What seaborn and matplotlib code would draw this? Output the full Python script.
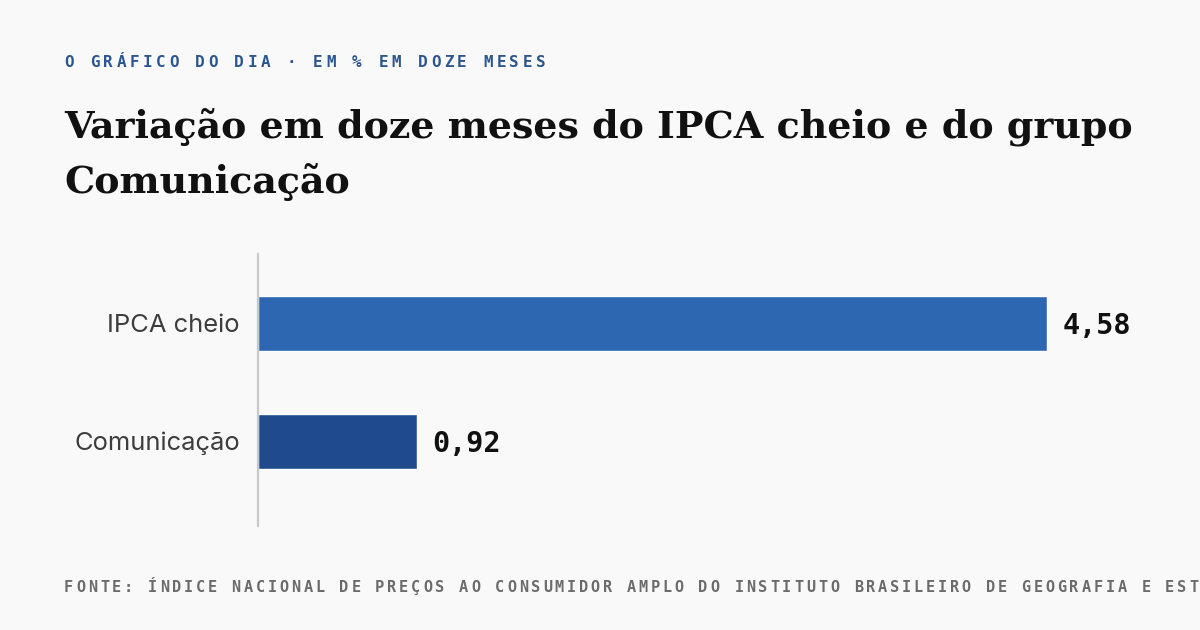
import matplotlib
matplotlib.use("Agg")
import matplotlib.pyplot as plt
import seaborn as sns

# data
categories = ["IPCA cheio", "Comunicação"]
values = [4.58, 0.92]
bar_colors = ["#2e67b1", "#1f4b8c"]

kicker = "O GRÁFICO DO DIA · EM % EM DOZE MESES"
title_lines = ["Variação em doze meses do IPCA cheio e do grupo", "Comunicação"]
source = ("FONTE: ÍNDICE NACIONAL DE PREÇOS AO CONSUMIDOR AMPLO DO INSTITUTO "
          "BRASILEIRO DE GEOGRAFIA E ESTATÍSTICA")

BG = "#f9f9f9"
W, H = 1200, 630

sns.set_theme(style="white")
plt.rcParams["font.family"] = ["DejaVu Sans"]


def px(x, y):
    """pixel coords (from top-left) -> figure fraction"""
    return x / W, 1 - y / H


def spaced_text(fig, x, y, s, pitch, glyph_w=9, **kw):
    # monospace text with extra tracking, drawn char by char;
    # chars that would run past the right edge are dropped (the original is cropped there)
    for i, ch in enumerate(s):
        cx = x + i * pitch
        if cx + glyph_w > W:
            break
        fx, fy = px(cx, y)
        fig.text(fx, fy, ch, ha="left", va="baseline", **kw)


fig = plt.figure(figsize=(W / 100, H / 100), dpi=100, facecolor=BG)

# axes placed in pixels
left, right, top, bottom = 258, 1140, 254, 526
ax = fig.add_axes([left / W, 1 - bottom / H, (right - left) / W, (bottom - top) / H])
ax.set_facecolor(BG)

sns.barplot(x=values, y=categories, hue=categories, palette=bar_colors,
            legend=False, width=0.466, orient="h", ax=ax, saturation=1)

ax.set_xlim(0, (right - left) / 172.3)
ax.set_ylim(1.72, -0.585)
ax.set_xlabel("")
ax.set_ylabel("")
ax.set_xticks([])
for side in ["top", "right", "bottom"]:
    ax.spines[side].set_visible(False)
ax.spines["left"].set_color("#c9c9c9")
ax.spines["left"].set_linewidth(1.6)
ax.tick_params(axis="y", length=0, pad=13)
for lab in ax.get_yticklabels():
    lab.set_fontfamily("Inter")
    lab.set_fontsize(18.4)
    lab.set_color("#3d3d3d")

for i, v in enumerate(values):
    ax.annotate(f"{v:.2f}".replace(".", ","), xy=(v, i), xytext=(11, -2),
                textcoords="offset points", ha="left", va="center",
                fontfamily="DejaVu Sans Mono", fontweight="bold", fontsize=20.5,
                color="#111111")

# header
spaced_text(fig, 64, 67, kicker, 13.1, fontfamily="DejaVu Sans Mono",
            fontweight="bold", fontsize=11.5, color="#2b5690")
fig.text(*px(64, 138), title_lines[0], ha="left", va="baseline",
         fontfamily="DejaVu Serif", fontweight="bold", fontsize=27.4, color="#111111")
fig.text(*px(64, 193), title_lines[1], ha="left", va="baseline",
         fontfamily="DejaVu Serif", fontweight="bold", fontsize=27.4, color="#111111")

# footer
spaced_text(fig, 64, 592, source, 11.97, fontfamily="DejaVu Sans Mono",
            fontweight="bold", fontsize=11, color="#6b6b6b")

fig.savefig("out.png", dpi=100, facecolor=BG)
